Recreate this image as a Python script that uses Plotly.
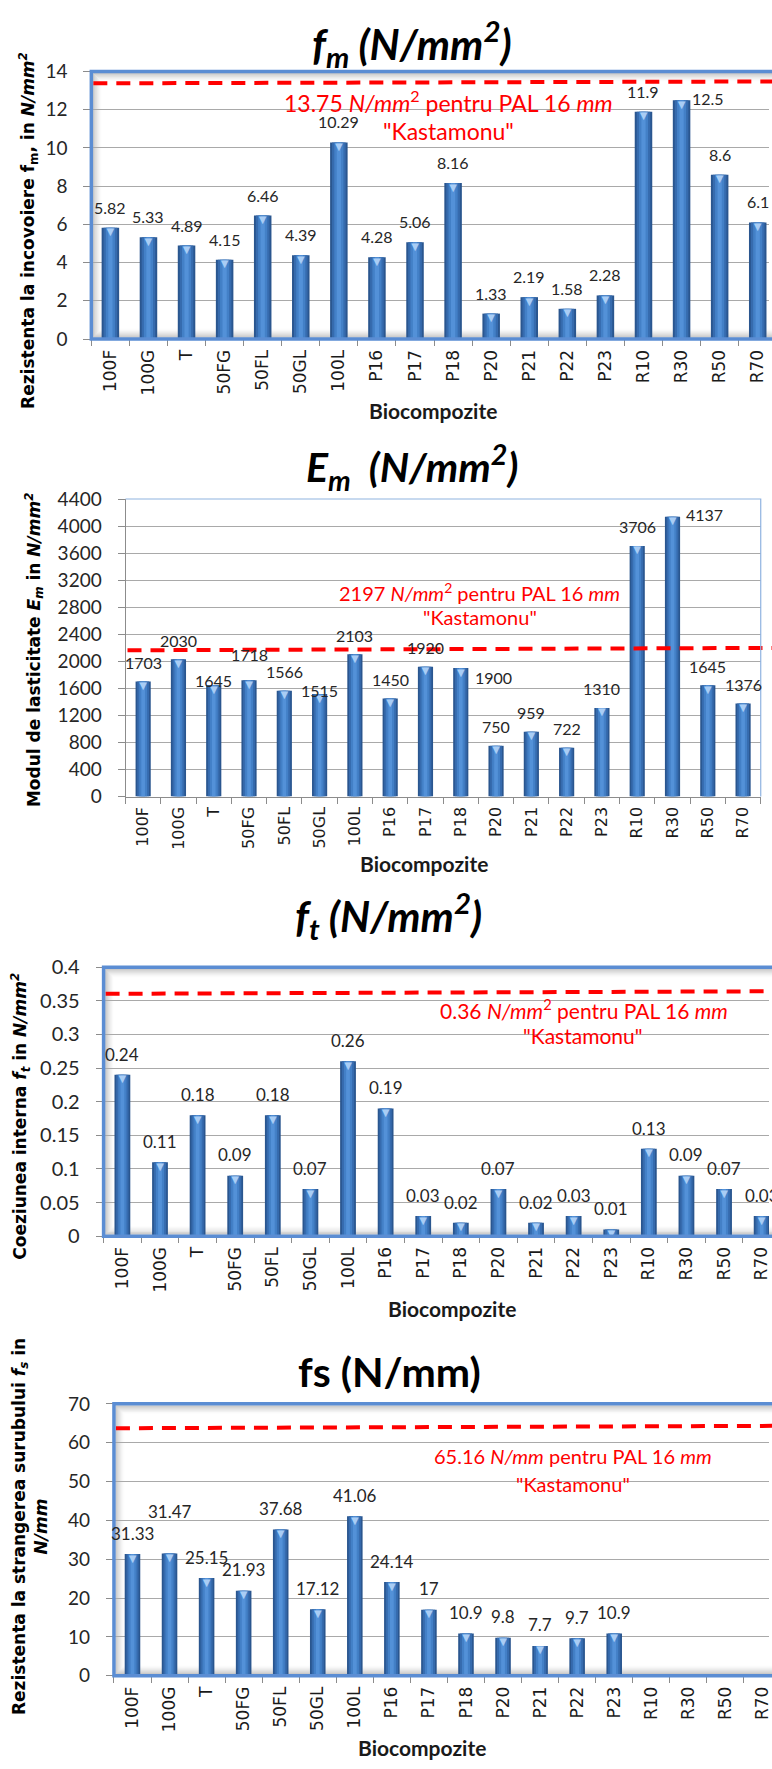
import plotly.graph_objects as go

W, H = 772, 1769

# ---------------- data ----------------
categories = ["100F", "100G", "T", "50FG", "50FL", "50GL", "100L", "P16", "P17",
              "P18", "P20", "P21", "P22", "P23", "R10", "R30", "R50", "R70"]

fm_values = [5.82, 5.33, 4.89, 4.15, 6.46, 4.39, 10.29, 4.28, 5.06, 8.16,
             1.33, 2.19, 1.58, 2.28, 11.9, 12.5, 8.6, 6.1]
Em_values = [1703, 2030, 1645, 1718, 1566, 1515, 2103, 1450, 1920, 1900,
             750, 959, 722, 1310, 3706, 4137, 1645, 1376]
ft_values = [0.24, 0.11, 0.18, 0.09, 0.18, 0.07, 0.26, 0.19, 0.03, 0.02,
             0.07, 0.02, 0.03, 0.01, 0.13, 0.09, 0.07, 0.03]
fs_values = [31.33, 31.47, 25.15, 21.93, 37.68, 17.12, 41.06, 24.14, 17, 10.9,
             9.8, 7.7, 9.7, 10.9, None, None, None, None]

# reference (PAL 16 mm "Kastamonu") dashed lines: start / end level as drawn
fm_ref = [13.38, 13.48]
Em_ref = [2163, 2198]
ft_ref = [0.3604, 0.3642]
fs_ref = [63.73, 64.34]

fm_ref_text = "13.75 <i>N/mm</i><sup>2</sup> pentru PAL 16 <i>mm</i>"
Em_ref_text = "2197 <i>N/mm</i><sup>2</sup> pentru PAL 16 <i>mm</i>"
ft_ref_text = "0.36 <i>N/mm</i><sup>2</sup> pentru PAL 16 <i>mm</i>"
fs_ref_text = "65.16 <i>N/mm</i> pentru PAL 16 <i>mm</i>"

titles = [
    "<b><i>f<sub>m</sub> (N/mm<sup>2</sup>)</i></b>",
    "<b><i>E<sub>m</sub>  (N/mm<sup>2</sup>)</i></b>",
    "<b><i>f<sub>t</sub> (N/mm<sup>2</sup>)</i></b>",
    "<b>fs (N/mm)</b>",
]
ytitles = [
    "<b>Rezistenta la incovoiere f<sub>m</sub>, in <i>N/mm<sup>2</sup></i></b>",
    "<b>Modul de lasticitate <i>E<sub>m</sub></i> in <i>N/mm<sup>2</sup></i></b>",
    "<b>Coeziunea interna <i>f<sub>t</sub></i> in <i>N/mm<sup>2</sup></i></b>",
    "<b>Rezistenta la strangerea surubului <i>f<sub>s</sub></i> in<br><i>N/mm</i></b>",
]
xtitle = "<b>Biocompozite</b>"


def px(x):
    return x / W


def py(y):
    return 1 - y / H


# ---------------- layout geometry (pixels) ----------------
panels = [
    dict(vals=fm_values, ref=fm_ref, rtext=fm_ref_text, L=91.7, R=779.8, T=59.3, B=330.5,
         ymax=14, dtick=2, frame=True, bw=0.46, lab=16, yshift=20.5,
         offs={"R30": (26, 2)}, tsize=42, ysize=17,
         title_xy=(414, 31), ytitle_xy=(28, 220), xtitle_xy=(435, 403),
         r1=(450, 90), r2=(450, 120), rsize=23, tick=17),
    dict(vals=Em_values, ref=Em_ref, rtext=Em_ref_text, L=126.0, R=763.7, T=492.7, B=794.3,
         ymax=4400, dtick=400, frame=False, bw=0.43, lab=16, yshift=19,
         offs={"T": (0, 5), "50FG": (0, 26), "50GL": (0, 4), "P18": (33, -9), "R30": (32, 2)},
         tsize=41, ysize=17,
         title_xy=(414, 460), ytitle_xy=(34, 645), xtitle_xy=(426, 862),
         r1=(481, 587), r2=(482, 612), rsize=20, tick=16),
    dict(vals=ft_values, ref=ft_ref, rtext=ft_ref_text, L=104.0, R=783.5, T=967.3, B=1240.0,
         ymax=0.4, dtick=0.05, frame=True, bw=0.42, lab=17, yshift=20.7,
         offs={}, tsize=42, ysize=17,
         title_xy=(390, 915), ytitle_xy=(21, 1118), xtitle_xy=(454, 1313),
         r1=(586, 1010), r2=(585, 1037), rsize=21, tick=17),
    dict(vals=fs_values, ref=fs_ref, rtext=fs_ref_text, L=114.4, R=784.0, T=1410.0, B=1685.7,
         ymax=70, dtick=10, frame=True, bw=0.42, lab=17, yshift=21,
         offs={"100G": (0, 42)}, tsize=41, ysize=17,
         title_xy=(391, 1377), ytitle_xy=(30, 1534), xtitle_xy=(424, 1758),
         r1=(575, 1463), r2=(575, 1491), rsize=20, tick=17),
]

bar_layers = [(1.0, "#2A568F"), (0.78, "#366BAE"), (0.52, "#4380C7"), (0.24, "#5391D8")]

fig = go.Figure()
annotations = []
shapes = []
layout_axes = {}


def fmt(v):
    return ("%g" % v)


for i, p in enumerate(panels):
    n = i + 1
    xa = "x" if n == 1 else "x%d" % n
    ya = "y" if n == 1 else "y%d" % n
    xkey = "xaxis" if n == 1 else "xaxis%d" % n
    ykey = "yaxis" if n == 1 else "yaxis%d" % n

    step = (p["R"] - p["L"]) / len(categories)
    right = min(p["R"], W)
    xr = [-0.5, -0.5 + (right - p["L"]) / step]

    for frac, col in bar_layers:
        fig.add_trace(go.Bar(
            x=categories, y=p["vals"], width=p["bw"] * frac,
            marker=dict(color=col, line=dict(width=0)),
            xaxis=xa, yaxis=ya, showlegend=False, hoverinfo="skip"))
    # light triangular cap at the top of every bar
    cx = [c for c, v in zip(categories, p["vals"]) if v is not None]
    cy = [v for v in p["vals"] if v is not None]
    fig.add_trace(go.Scatter(
        x=cx, y=cy, mode="text",
        text=["\u25BC"] * len(cx),
        textposition="bottom center",
        textfont=dict(size=10, color="#A9CDF5", family="DejaVu Sans"),
        xaxis=xa, yaxis=ya, showlegend=False, hoverinfo="skip", cliponaxis=False))

    grid_col = "#A9A9A9"
    layout_axes[xkey] = dict(
        domain=[px(p["L"]), px(right)], anchor=ya, type="category",
        categoryorder="array", categoryarray=categories,
        range=xr, tickson="boundaries", ticks="outside", ticklen=6, tickcolor="#8C8C8C",
        showline=True, linecolor="#8C8C8C", linewidth=1, showgrid=False,
        tickangle=-90, tickfont=dict(family="DejaVu Sans", size=p["tick"], color="#1A1A1A"),
        ticklabelstandoff=3, fixedrange=True)
    layout_axes[ykey] = dict(
        domain=[py(p["B"]), py(p["T"])], anchor=xa, range=[0, p["ymax"]],
        dtick=p["dtick"], tick0=0, ticks="outside", ticklen=7, tickcolor="#8C8C8C",
        showline=True, linecolor="#8C8C8C", linewidth=1,
        showgrid=True, gridcolor=grid_col, gridwidth=1, zeroline=False,
        tickfont=dict(family="Lato", size=19 if n != 3 else 20, color="#262626"),
        ticklabelstandoff=12, fixedrange=True)

    # data labels
    for c, v in zip(categories, p["vals"]):
        if v is None:
            continue
        xs, ys = p["offs"].get(c, (0, p["yshift"]))
        annotations.append(dict(
            x=c, y=v, xref=xa, yref=ya, text=fmt(v), showarrow=False,
            xshift=xs, yshift=ys, yanchor="middle",
            font=dict(family="Lato", size=p["lab"], color="#262626")))

    # dashed reference line
    x_end = px(W + 5)
    shapes.append(dict(
        type="line", xref="paper", yref=ya, x0=px(p["L"] + 2), x1=x_end,
        y0=p["ref"][0], y1=p["ref"][1],
        line=dict(color="#FF0000", width=4, dash="14px,9px"), layer="above"))

    # red reference text
    annotations.append(dict(
        x=px(p["r1"][0]), y=py(p["r1"][1]), xref="paper", yref="paper",
        text=p["rtext"], showarrow=False, xanchor="center", yanchor="middle",
        font=dict(family="Lato", size=p["rsize"], color="#FF0000")))
    annotations.append(dict(
        x=px(p["r2"][0]), y=py(p["r2"][1]), xref="paper", yref="paper",
        text='"Kastamonu"', showarrow=False, xanchor="center", yanchor="middle",
        font=dict(family="Lato", size=p["rsize"], color="#FF0000")))

    # title
    annotations.append(dict(
        x=px(p["title_xy"][0]), y=py(p["title_xy"][1]), xref="paper", yref="paper",
        text=titles[i], showarrow=False, xanchor="center", yanchor="middle",
        font=dict(family="Lato", size=p["tsize"], color="#000000")))
    # y title
    annotations.append(dict(
        x=px(p["ytitle_xy"][0]), y=py(p["ytitle_xy"][1]), xref="paper", yref="paper",
        text=ytitles[i], showarrow=False, xanchor="center", yanchor="middle",
        textangle=-90, font=dict(family="DejaVu Sans", size=p["ysize"], color="#000000")))
    # x title
    annotations.append(dict(
        x=px(p["xtitle_xy"][0]), y=py(p["xtitle_xy"][1]), xref="paper", yref="paper",
        text=xtitle, showarrow=False, xanchor="center", yanchor="middle",
        font=dict(family="Lato", size=21, color="#1A1A1A")))

    L, R, T, B = p["L"], p["R"], p["T"], p["B"]
    if p["frame"]:
        # inner shadow
        for k in range(1, 10):
            a = 0.30 * (1 - k / 10.0) ** 1.6
            shapes.append(dict(
                type="rect", xref="paper", yref="paper",
                x0=px(L + 1 + k), x1=px(R + 40), y0=py(B - 1 - k), y1=py(T + 1 + k),
                line=dict(color="rgba(70,70,70,%.3f)" % a, width=1.2),
                fillcolor="rgba(0,0,0,0)", layer="below"))
        # blue frame
        shapes.append(dict(
            type="rect", xref="paper", yref="paper",
            x0=px(L), x1=px(R + 40), y0=py(B), y1=py(T),
            line=dict(color="#5B8DD3", width=3.5), fillcolor="rgba(0,0,0,0)", layer="above"))
    else:
        # thin light-blue plot-area border (top and right)
        shapes.append(dict(
            type="path", xref="paper", yref="paper",
            path="M %f %f L %f %f L %f %f" % (px(L), py(T), px(R), py(T), px(R), py(B)),
            line=dict(color="#8FB3E0", width=1.2), layer="above"))

fig.update_layout(
    width=W, height=H,
    margin=dict(l=0, r=0, t=0, b=0),
    paper_bgcolor="white", plot_bgcolor="rgba(0,0,0,0)",
    barmode="overlay", showlegend=False,
    annotations=annotations, shapes=shapes,
    **layout_axes)

fig.write_html("out.html")
